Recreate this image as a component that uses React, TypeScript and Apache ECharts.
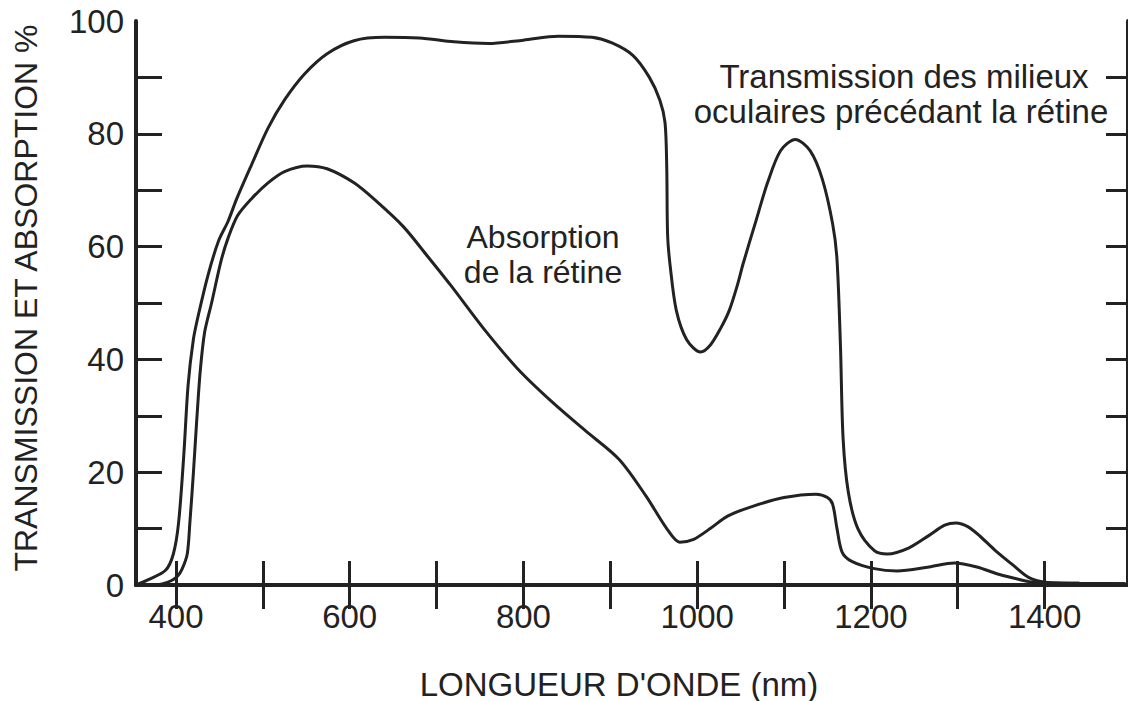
import React, { useEffect, useRef } from "react";
import * as echarts from "echarts";

// Transmission des milieux oculaires précédant la rétine (%)
const transWl = [354, 369, 388, 397, 403, 409, 414, 420, 426, 437, 449, 460, 470, 487, 506, 525, 548, 574, 605, 640, 680, 720, 760, 800, 840, 879, 902, 926, 945, 957, 963, 965, 966, 969, 976, 988, 1004, 1015, 1027, 1037, 1046, 1053, 1067, 1081, 1096, 1113, 1130, 1144, 1156, 1161, 1165, 1168, 1174, 1185, 1204, 1219, 1244, 1267, 1285, 1298, 1312, 1326, 1344, 1363, 1382, 1401, 1440, 1493];
const transVal = [0, 1.0, 2.6, 5.5, 11, 23, 35.5, 43.5, 48, 55, 61, 64.5, 68.5, 74.5, 81, 86, 90.6, 94.2, 96.5, 97.1, 97, 96.3, 96, 96.6, 97.3, 97.1, 96.1, 93.9, 90, 86, 82, 74, 62, 56.5, 48.7, 43.5, 41.3, 42.5, 45.5, 48.7, 53, 57, 64.2, 71.3, 77, 79, 77, 72, 64, 57.7, 42.3, 26, 16.5, 10, 6.1, 5.5, 6.6, 8.8, 10.6, 11, 10.3, 8.6, 6, 3.6, 1.3, 0.5, 0.3, 0.2];

// Absorption de la rétine (%)
const absWl = [365, 384, 395, 402, 407, 413, 416, 420, 424, 428, 433, 441, 452, 460, 471, 487, 506, 525, 551, 574, 605, 631, 662, 688, 716, 754, 793, 832, 871, 910, 941, 965, 980, 996, 1015, 1035, 1063, 1100, 1137, 1150, 1156, 1161, 1167, 1178, 1204, 1230, 1267, 1296, 1322, 1345, 1365, 1382, 1401, 1440, 1493];
const absVal = [0, 0.2, 0.8, 1.6, 2.8, 5.5, 11, 19.7, 29.4, 38, 44.8, 50, 57.5, 61.5, 65.5, 68.5, 71.3, 73.3, 74.3, 73.8, 71.3, 68, 63.5, 58.6, 53.2, 45.5, 38.4, 32.6, 27.4, 22.3, 15.8, 10, 7.6, 8.1, 10, 12.2, 13.9, 15.5, 16.1, 15.5, 14.3, 10, 5.8, 4.2, 2.9, 2.5, 3.2, 3.9, 3.2, 2, 1.2, 0.6, 0.4, 0.3, 0.2];

const xLabelValues = [400, 600, 800, 1000, 1200, 1400];
const xTickValues = [400, 500, 600, 700, 800, 900, 1000, 1100, 1200, 1300, 1400];
const yLabelValues = [0, 20, 40, 60, 80, 100];
const yTickValues = [10, 20, 30, 40, 50, 60, 70, 80, 90];

const xTitle = "LONGUEUR D'ONDE (nm)";
const yTitle = "TRANSMISSION ET ABSORPTION %";
const transLabel = ["Transmission des milieux", "oculaires précédant la rétine"];
const absLabel = ["Absorption", "de la rétine"];

const INK = "#222222";
const FONT = "'Liberation Sans', Arial, Helvetica, sans-serif";

export default function App() {
  const ref = useRef<HTMLDivElement>(null);
  useEffect(() => {
    if (!ref.current) return;
    const chart = echarts.init(ref.current, null, { renderer: "svg" });
    const axisLine = { show: true, lineStyle: { color: INK, width: 4 } };
    const plain = (v: number) => String(v);
    const option: any = {
      animation: false,
      backgroundColor: "#ffffff",
      grid: { left: 136, top: 21, right: -4, bottom: 116, containLabel: false },
      xAxis: [
        {
          type: "value",
          position: "bottom",
          min: 354,
          max: 1496,
          axisLine,
          splitLine: { show: false },
          axisTick: { show: true, inside: true, length: 24, customValues: xTickValues, lineStyle: { color: INK, width: 3 } },
          axisLabel: { customValues: xLabelValues, formatter: plain, color: INK, fontSize: 33, fontFamily: FONT, margin: 15 },
        },
        {
          type: "value",
          position: "top",
          min: 354,
          max: 1496,
          axisLine,
          splitLine: { show: false },
          axisTick: { show: true, inside: true, length: 24, customValues: xTickValues, lineStyle: { color: INK, width: 3 } },
          axisLabel: { show: false },
        },
      ],
      yAxis: [
        {
          type: "value",
          position: "left",
          min: 0,
          max: 100,
          axisLine,
          splitLine: { show: false },
          axisTick: { show: true, inside: true, length: 26, customValues: yTickValues, lineStyle: { color: INK, width: 3 } },
          axisLabel: { customValues: yLabelValues, formatter: plain, color: INK, fontSize: 33, fontFamily: FONT, margin: 12 },
        },
        {
          type: "value",
          position: "right",
          min: 0,
          max: 100,
          axisLine,
          splitLine: { show: false },
          axisTick: { show: true, inside: true, length: 22, customValues: yTickValues, lineStyle: { color: INK, width: 3 } },
          axisLabel: { show: false },
        },
      ],
      series: [
        {
          name: "Transmission",
          type: "line",
          xAxisIndex: 0,
          yAxisIndex: 0,
          data: transWl.map((w, i) => [w, transVal[i]]),
          smooth: 0.3,
          showSymbol: false,
          lineStyle: { color: INK, width: 3 },
        },
        {
          name: "Absorption",
          type: "line",
          xAxisIndex: 0,
          yAxisIndex: 0,
          data: absWl.map((w, i) => [w, absVal[i]]),
          smooth: 0.3,
          showSymbol: false,
          lineStyle: { color: INK, width: 3 },
        },
      ],
      graphic: [
        { type: "text", x: 904, y: 76, style: { text: transLabel[0], fill: INK, font: `33px ${FONT}`, textAlign: "center", textVerticalAlign: "middle" } },
        { type: "text", x: 901, y: 111, style: { text: transLabel[1], fill: INK, font: `33px ${FONT}`, textAlign: "center", textVerticalAlign: "middle" } },
        { type: "text", x: 543, y: 237, style: { text: absLabel[0], fill: INK, font: `32px ${FONT}`, textAlign: "center", textVerticalAlign: "middle" } },
        { type: "text", x: 543, y: 272, style: { text: absLabel[1], fill: INK, font: `32px ${FONT}`, textAlign: "center", textVerticalAlign: "middle" } },
        { type: "text", x: 619, y: 684, style: { text: xTitle, fill: INK, font: `33px ${FONT}`, textAlign: "center", textVerticalAlign: "middle" } },
        { type: "text", x: 26, y: 298, rotation: Math.PI / 2, style: { text: yTitle, fill: INK, font: `32px ${FONT}`, textAlign: "center", textVerticalAlign: "middle" } },
      ],
    };
    chart.setOption(option);
    return () => chart.dispose();
  }, []);
  return (
    <div
      ref={ref}
      style={{ position: "fixed", left: 0, top: 0, width: 1128, height: 701, background: "#fff" }}
    />
  );
}
